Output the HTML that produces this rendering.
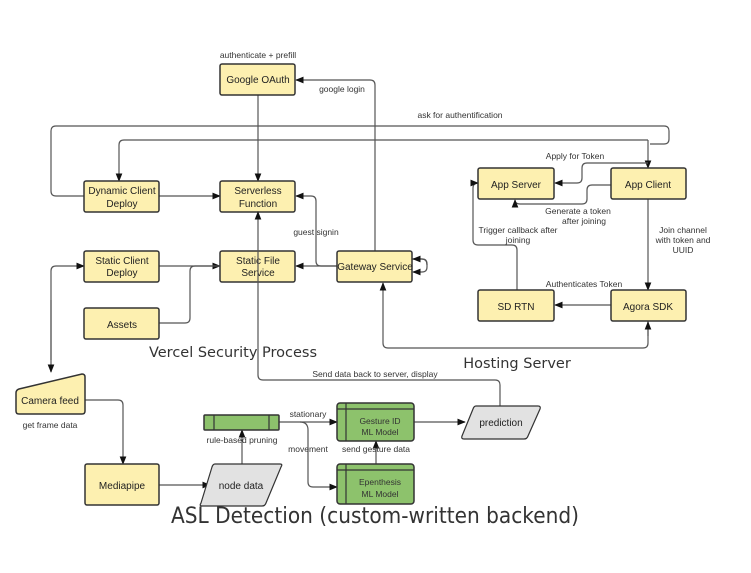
<!DOCTYPE html>
<html><head><meta charset="utf-8"><style>
html,body{margin:0;padding:0;background:#fff;}
svg{display:block;font-family:"Liberation Sans",sans-serif;}
.b{fill:#fdf0b0;stroke:#333;stroke-width:1.5;}
.g{fill:#8dc26c;stroke:#333;stroke-width:1.5;}
.p{fill:#e2e2e2;stroke:#333;stroke-width:1.2;}
.l{fill:none;stroke:#555;stroke-width:1.2;}
.t{font-size:10px;fill:#222;text-anchor:middle;}
.s{font-size:8.5px;fill:#333;text-anchor:middle;}
.h{font-size:14.5px;fill:#333;text-anchor:middle;font-family:"DejaVu Sans","Liberation Sans",sans-serif;}
</style></head><body>
<svg width="751" height="573" viewBox="0 0 751 573" xmlns="http://www.w3.org/2000/svg">
<defs><marker id="a" viewBox="0 0 10 10" refX="9" refY="5" markerWidth="7" markerHeight="7" orient="auto"><path d="M0,1 L10,5 L0,9 z" fill="#111"/></marker></defs>

<!-- connectors -->
<path class="l" d="M258,95 V181" marker-end="url(#a)"/>
<path class="l" d="M375,251 V85 Q375,80 370,80 H296" marker-end="url(#a)"/>
<path class="l" d="M84,196 H56 Q51,196 51,191 V131 Q51,126 56,126 H664 Q669,126 669,131 V139 Q669,144 664,144 H650"/>
<path class="l" d="M648,140 H124 Q119,140 119,145 V181" marker-end="url(#a)"/>
<path class="l" d="M648,140 V168" marker-end="url(#a)"/>
<path class="l" d="M159,196 H220" marker-end="url(#a)"/>
<path class="l" d="M159,266 H220" marker-end="url(#a)"/>
<path class="l" d="M159,323 H185 Q190,323 190,318 V271 Q190,266 195,266 H220"/>
<path class="l" d="M337,266 H296" marker-end="url(#a)"/>
<path class="l" d="M337,266 H321 Q316,266 316,261 V201 Q316,196 311,196 H296" marker-end="url(#a)"/>
<path class="l" d="M412,259 H422 Q427,259 427,264 V267 Q427,272 422,272 H413" marker-end="url(#a)"/>
<path class="l" d="M427,265 Q427,259 422,259 H413" marker-end="url(#a)"/>
<path class="l" d="M648,321 V343 Q648,348 643,348 H388 Q383,348 383,343 V283" marker-end="url(#a)"/>
<path class="l" d="M648,336 V322" marker-end="url(#a)"/>
<path class="l" d="M648,163 H587 Q582,163 582,168 V178 Q582,183 577,183 H555" marker-end="url(#a)"/>
<path class="l" d="M611,185 H592 Q587,185 587,190 V199 Q587,204 582,204 H520 Q515,204 515,200" marker-end="url(#a)"/>
<path class="l" d="M517,290 V250 Q517,245 512,245 H478 Q473,245 473,240 V188 Q473,183 478,183" marker-end="url(#a)"/>
<path class="l" d="M648,199 V290" marker-end="url(#a)"/>
<path class="l" d="M611,305 H555" marker-end="url(#a)"/>
<path class="l" d="M51,360 V271 Q51,266 56,266 H84" marker-end="url(#a)"/>
<path class="l" d="M51,300 V372" marker-end="url(#a)"/>
<path class="l" d="M85,400 H118 Q123,400 123,405 V464" marker-end="url(#a)"/>
<path class="l" d="M159,485 H210" marker-end="url(#a)"/>
<path class="l" d="M242,464 V430" marker-end="url(#a)"/>
<path class="l" d="M279,422 H337" marker-end="url(#a)"/>
<path class="l" d="M300,422 Q308,422 308,430 V482 Q308,487 313,487 H337" marker-end="url(#a)"/>
<path class="l" d="M376,464 V441" marker-end="url(#a)"/>
<path class="l" d="M414,422 H465" marker-end="url(#a)"/>

<!-- yellow boxes -->
<rect class="b" x="220" y="64" width="75" height="31" rx="2"/>
<text class="t" x="258" y="83">Google OAuth</text>
<rect class="b" x="84" y="181" width="75" height="31" rx="2"/>
<text class="t" x="122" y="194">Dynamic Client</text><text class="t" x="122" y="207">Deploy</text>
<rect class="b" x="220" y="181" width="75" height="31" rx="2"/>
<text class="t" x="258" y="194">Serverless</text><text class="t" x="258" y="207">Function</text>
<rect class="b" x="84" y="251" width="75" height="31" rx="2"/>
<text class="t" x="122" y="264">Static Client</text><text class="t" x="122" y="276">Deploy</text>
<rect class="b" x="220" y="251" width="75" height="31" rx="2"/>
<text class="t" x="258" y="264">Static File</text><text class="t" x="258" y="276">Service</text>
<rect class="b" x="84" y="308" width="75" height="31" rx="2"/>
<text class="t" x="122" y="328">Assets</text>
<rect class="b" x="337" y="251" width="75" height="31" rx="2"/>
<text class="t" x="375" y="270">Gateway Service</text>
<rect class="b" x="478" y="168" width="76" height="31" rx="2"/>
<text class="t" x="516" y="188">App Server</text>
<rect class="b" x="611" y="168" width="75" height="31" rx="2"/>
<text class="t" x="648" y="188">App Client</text>
<rect class="b" x="478" y="290" width="76" height="31" rx="2"/>
<text class="t" x="516" y="310">SD RTN</text>
<rect class="b" x="611" y="290" width="75" height="31" rx="2"/>
<text class="t" x="648" y="310">Agora SDK</text>
<path class="b" d="M16,393 Q16,390 19,389 L82,374 Q85,374 85,377 V411 Q85,414 82,414 H19 Q16,414 16,411 Z"/>
<text class="t" x="50" y="404">Camera feed</text>
<rect class="b" x="85" y="464" width="74" height="41" rx="2"/>
<text class="t" x="122" y="489">Mediapipe</text>

<!-- line over static file box -->
<path class="l" d="M500,406 V385 Q500,380 495,380 H263 Q258,380 258,375 V212" marker-end="url(#a)"/>

<!-- grey parallelograms -->
<path class="p" d="M215,464 H280 Q283,464 281,467 L266,503 Q265,506 262,506 H202 Q199,506 201,503 L212,467 Q213,464 215,464 Z"/>
<text class="t" x="241" y="489">node data</text>
<path class="p" d="M476,406 H538 Q541,406 540,409 L528,436 Q527,439 524,439 H464 Q461,439 462,436 L473,409 Q474,406 476,406 Z"/>
<text class="t" x="501" y="426">prediction</text>

<!-- green -->
<rect class="g" x="204" y="415" width="75" height="15" rx="1"/>
<path d="M214,415 V430 M269,415 V430" stroke="#333" stroke-width="1.2"/>
<rect class="g" x="337" y="403" width="77" height="38" rx="3"/>
<path d="M337,409 H414 M346,403 V441" stroke="#333" stroke-width="1.2"/>
<text class="s" x="380" y="424">Gesture ID</text><text class="s" x="380" y="435">ML Model</text>
<rect class="g" x="337" y="464" width="77" height="40" rx="3"/>
<path d="M337,470 H414 M346,464 V504" stroke="#333" stroke-width="1.2"/>
<text class="s" x="380" y="485">Epenthesis</text><text class="s" x="380" y="497">ML Model</text>

<!-- labels -->
<text class="s" x="258" y="58">authenticate + prefill</text>
<text class="s" x="342" y="92">google login</text>
<text class="s" x="460" y="118">ask for authentification</text>
<text class="s" x="316" y="235">guest signin</text>
<text class="s" x="575" y="159">Apply for Token</text>
<text class="s" x="578" y="214">Generate a token</text><text class="s" x="584" y="224">after joining</text>
<text class="s" x="518" y="233">Trigger callback after</text><text class="s" x="518" y="243">joining</text>
<text class="s" x="683" y="233">Join channel</text><text class="s" x="683" y="243">with token and</text><text class="s" x="683" y="253">UUID</text>
<text class="s" x="584" y="287">Authenticates Token</text>
<text class="s" x="375" y="377">Send data back to server, display</text>
<text class="s" x="50" y="428">get frame data</text>
<text class="s" x="242" y="443">rule-based pruning</text>
<text class="s" x="308" y="417">stationary</text>
<text class="s" x="308" y="452">movement</text>
<text class="s" x="376" y="452">send gesture data</text>
<text class="h" x="233" y="357">Vercel Security Process</text>
<text class="h" x="517" y="368">Hosting Server</text>
<text class="h" x="375" y="523" style="font-size:22px" textLength="408" lengthAdjust="spacingAndGlyphs">ASL Detection (custom-written backend)</text>
</svg>
</body></html>
